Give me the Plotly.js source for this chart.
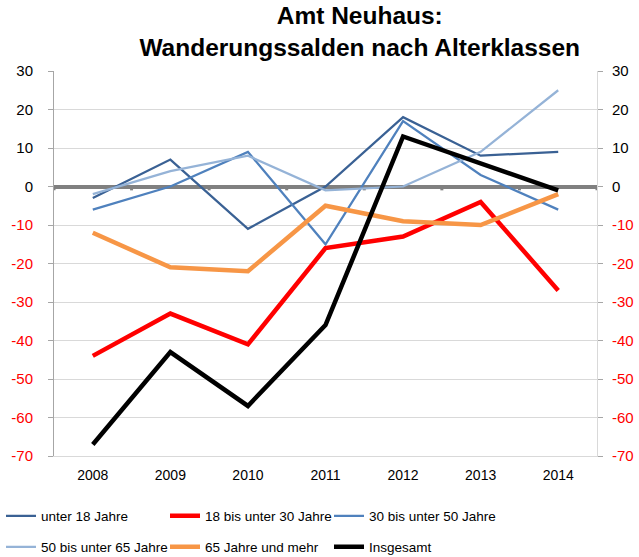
<!DOCTYPE html>
<html><head><meta charset="utf-8">
<script src="https://cdn.plot.ly/plotly-3.0.1.min.js"></script>
<style>html,body{margin:0;padding:0;background:#fff;}#chart{width:639px;height:557px;}</style>
</head><body><div id="chart"></div>
<script>
const years = ['2008','2009','2010','2011','2012','2013','2014'];
const unter18 = [-3, 7, -11, 0, 18, 8, 9];
const von18bis30 = [-44, -33, -41, -16, -13, -4, -27];
const von30bis50 = [-6, 0, 9, -15, 17, 3, -6];
const von50bis65 = [-2, 4, 8, -1, 0, 9, 25];
const ab65 = [-12, -21, -22, -5, -9, -10, -2];
const insgesamt = [-67, -43, -57, -36, 13, 6, -1];
const seriesNames = ['unter 18 Jahre','18 bis unter 30 Jahre','30 bis unter 50 Jahre','50 bis unter 65 Jahre','65 Jahre und mehr','Insgesamt'];
const yTicks = [30, 20, 10, 0, -10, -20, -30, -40, -50, -60, -70];

const tickText = yTicks.map(v => v < 0 ? '<span style="color:#FF0000">' + v + '</span>' : String(v));

const legendIds = ['legend', 'legend2', 'legend3', 'legend4', 'legend5', 'legend6'];
function tr(y, idx, color, width) {
  return {x: years, y: y, name: seriesNames[idx], type: 'scatter', mode: 'lines',
    line: {color: color, width: width},
    legend: legendIds[idx], hoverinfo: 'skip'};
}
const data = [
  tr(unter18, 0, '#3A6194', 2.25),
  tr(von18bis30, 1, '#FF0000', 4.5),
  tr(von30bis50, 2, '#4F81BD', 2.25),
  tr(von50bis65, 3, '#95B3D7', 2.25),
  tr(ab65, 4, '#F79646', 4.5),
  tr(insgesamt, 5, '#000000', 4.5),
  {x: years, y: insgesamt, yaxis: 'y2', type: 'scatter', mode: 'lines', line: {width: 0}, showlegend: false, hoverinfo: 'skip', opacity: 0}
];

const shapes = years.concat(['']).map((c, i) => ({
  type: 'line', xref: 'x', yref: 'y', x0: i - 0.5, x1: i - 0.5, y0: 0, y1: -1,
  line: {color: '#808080', width: 3}, layer: 'below'
}));

const font = {family: 'Liberation Sans, Arial, sans-serif', size: 14, color: '#000'};
const yax = {
  range: [-70, 30], tickvals: yTicks, ticktext: tickText,
  showgrid: true, gridcolor: '#D9D9D9', gridwidth: 1,
  zeroline: true, zerolinecolor: '#808080', zerolinewidth: 4,
  showline: true, linecolor: '#A6A6A6', linewidth: 1,
  ticks: 'outside', ticklen: 5, tickcolor: '#A6A6A6',
  tickfont: {family: font.family, size: 15, color: '#000'}, fixedrange: true
};
const legendCols = [1, 165, 329];
const legendRows = [516, 547];
const layout = {
  width: 639, height: 557,
  margin: {l: 54, r: 42, t: 71, b: 101},
  paper_bgcolor: '#fff', plot_bgcolor: '#fff',
  font: font,
  title: {text: '<b>Amt Neuhaus:</b><br><b>Wanderungssalden nach Alterklassen</b>',
    font: {family: font.family, size: 24.5, color: '#000'},
    x: 0.563, xanchor: 'center', y: 0.957, yanchor: 'top', xref: 'container', yref: 'container'},
  xaxis: {type: 'category', range: [-0.5, 6.5], showgrid: false, zeroline: false,
    showline: true, linecolor: '#D9D9D9', linewidth: 1, ticks: '',
    tickfont: {family: font.family, size: 14, color: '#000'}, ticklabelstandoff: 6},
  yaxis: Object.assign({}, yax, {ticklabelstandoff: 12}),
  yaxis2: Object.assign({}, yax, {overlaying: 'y', side: 'right', matches: 'y', showgrid: false,
    zeroline: false, linecolor: '#D9D9D9', ticklabelstandoff: 6}),
  shapes: shapes,
  showlegend: true
};
legendIds.forEach((id, i) => {
  layout[id] = {orientation: 'h', xref: 'container', yref: 'container',
    x: legendCols[i % 3] / 639, y: 1 - legendRows[Math.floor(i / 3)] / 557,
    xanchor: 'left', yanchor: 'middle',
    font: {family: font.family, size: 13.5, color: '#000'}, bgcolor: 'rgba(0,0,0,0)'};
});
Plotly.newPlot('chart', data, layout, {displayModeBar: false, staticPlot: true});
</script></body></html>
